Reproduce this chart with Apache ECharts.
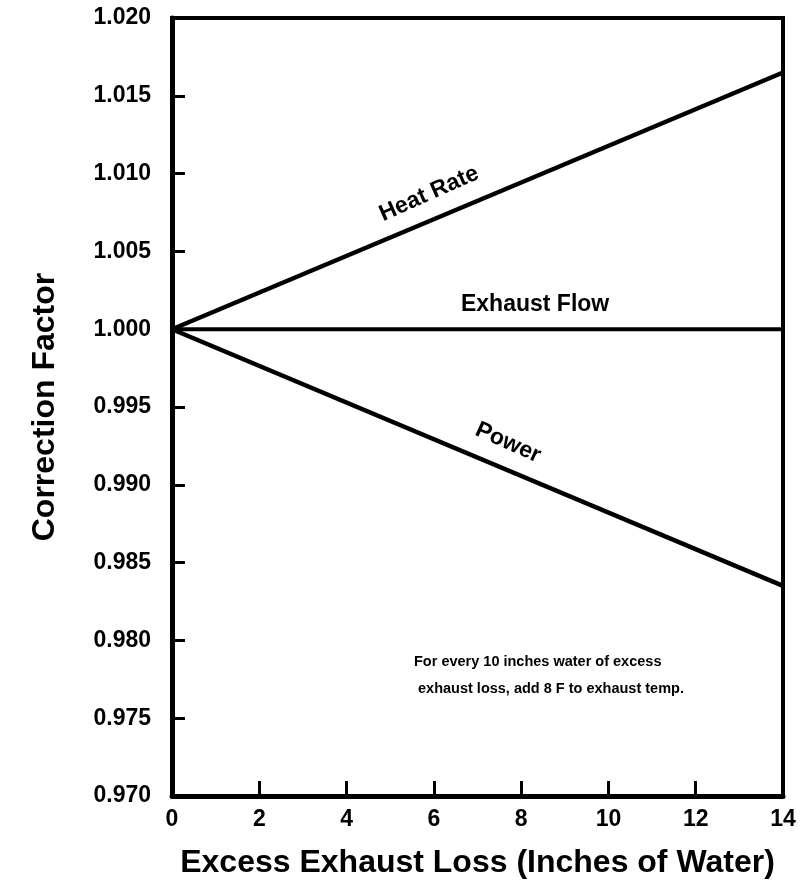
<!DOCTYPE html>
<html>
<head>
<meta charset="utf-8">
<script src="https://cdn.jsdelivr.net/npm/echarts@6/dist/echarts.min.js"></script>
<style>
  html, body { margin: 0; padding: 0; background: #fff; }
  #chart { width: 812px; height: 890px; }
</style>
</head>
<body>
<div id="chart"></div>
<script>
// Excess exhaust loss (inches of water) vs. correction factors
const xTicks = [0, 2, 4, 6, 8, 10, 12, 14];
const yTicks = [0.970, 0.975, 0.980, 0.985, 0.990, 0.995, 1.000, 1.005, 1.010, 1.015, 1.020];
const lossX = [0, 14];
const heatRate = [1.000, 1.0165];
const exhaustFlow = [1.000, 1.000];
const power = [1.000, 0.9835];

// Curve labels: [x, y, text, rotation]
const curveLabels = [
  [5.89, 1.0087, 'Heat Rate', 24],
  [8.32, 1.0016, 'Exhaust Flow', 0],
  [7.7, 0.9927, 'Power', -24]
];
const noteLines = ['For every 10 inches water of excess', ' exhaust loss, add 8 F to exhaust temp.'];

const FONT = '"Liberation Sans", Arial, Helvetica, sans-serif';

function pairs(ys) { return lossX.map((x, i) => [x, ys[i]]); }

const lineStyle = { color: '#000', width: 4.5 };

const chart = echarts.init(document.getElementById('chart'));
chart.setOption({
  animation: false,
  backgroundColor: '#fff',
  grid: { left: 172, right: 29, top: 18, bottom: 94, show: true, borderColor: '#000', borderWidth: 4 },
  xAxis: {
    type: 'value', min: xTicks[0], max: xTicks[xTicks.length - 1], interval: 2,
    axisLine: { show: true, lineStyle: { color: '#000', width: 5 } },
    axisTick: { show: true, inside: true, length: 15, lineStyle: { color: '#000', width: 3 } },
    axisLabel: { color: '#000', fontFamily: FONT, fontWeight: 'bold', fontSize: 23, margin: 12 },
    splitLine: { show: false },
    name: 'Excess Exhaust Loss (Inches of Water)',
    nameLocation: 'middle', nameGap: 51,
    nameTextStyle: { color: '#000', fontFamily: FONT, fontWeight: 'bold', fontSize: 32 }
  },
  yAxis: {
    type: 'value', min: 0.970, max: 1.020, interval: 0.005,
    axisLine: { show: true, lineStyle: { color: '#000', width: 5 } },
    axisTick: { show: true, inside: true, length: 13, lineStyle: { color: '#000', width: 3 } },
    axisLabel: { color: '#000', fontFamily: FONT, fontWeight: 'bold', fontSize: 23, margin: 21,
      formatter: v => v.toFixed(3) },
    splitLine: { show: false },
    name: 'Correction Factor',
    nameLocation: 'middle', nameGap: 111, nameRotate: 90,
    nameTextStyle: { color: '#000', fontFamily: FONT, fontWeight: 'bold', fontSize: 32 }
  },
  series: [
    { type: 'line', data: pairs(heatRate), symbol: 'none', lineStyle, z: 3 },
    { type: 'line', data: pairs(exhaustFlow), symbol: 'none', lineStyle: { color: '#000', width: 4 }, z: 3 },
    { type: 'line', data: pairs(power), symbol: 'none', lineStyle, z: 3 },
    {
      type: 'scatter', symbolSize: 0, z: 4,
      itemStyle: { opacity: 1 },
      data: curveLabels.map(d => ({
        value: [d[0], d[1]],
        label: { show: true, position: 'inside', formatter: d[2], rotate: d[3], opacity: 1,
          color: '#000', fontFamily: FONT, fontWeight: 'bold', fontSize: 23 }
      }))
    }
  ],
  graphic: [
    {
      type: 'text', left: 414, top: 648, z: 10,
      style: { text: noteLines.join('\n'), fill: '#000', font: 'bold 14.5px ' + FONT, lineHeight: 27 }
    }
  ]
});
</script>
</body>
</html>
